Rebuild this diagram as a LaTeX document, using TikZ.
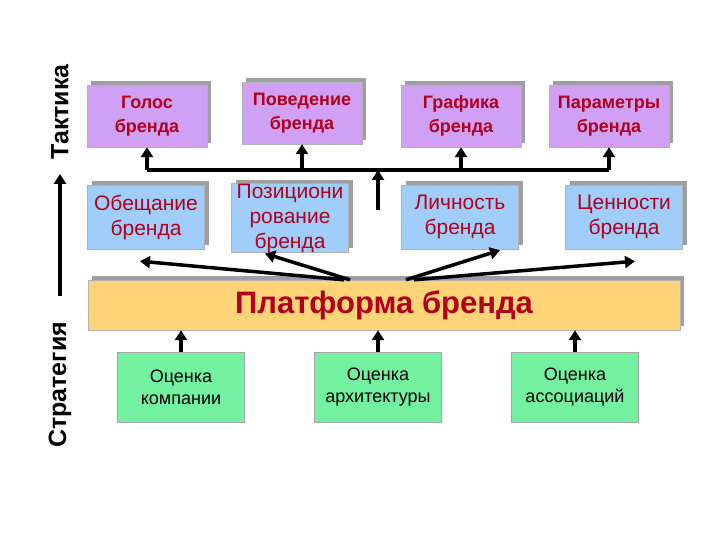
\documentclass[tikz,border=0pt]{standalone}
\usepackage{fontspec}
\setmainfont{Liberation Sans}
\usepackage{xcolor}
\usepackage{tikz}
\usetikzlibrary{arrows.meta, positioning, shadows}
\definecolor{tactic}{RGB}{208, 160, 245}
\definecolor{promise}{RGB}{160, 205, 250}
\definecolor{platform}{RGB}{255, 212, 120}
\definecolor{assess}{RGB}{115, 240, 160}
\definecolor{darkred}{RGB}{175, 0, 30}

\begin{document}
\begin{tikzpicture}[x=1pt, y=-1pt,
			tbox/.style={rectangle, draw=gray!60, fill=tactic, align=center, text=darkred, font=\bfseries\fontsize{18}{24}\selectfont, minimum width=120pt, minimum height=62pt, inner sep=0pt, drop shadow={shadow xshift=4pt, shadow yshift=4pt, fill=gray!75, opacity=1}},
			sbox/.style={rectangle, draw=gray!60, fill=promise, align=center, text=darkred, font=\fontsize{21}{25}\selectfont, minimum width=117pt, minimum height=64pt, inner sep=0pt, drop shadow={shadow xshift=4pt, shadow yshift=4pt, fill=gray!75, opacity=1}},
			abox/.style={rectangle, draw=gray!70, fill=assess, align=center, font=\fontsize{18}{22}\selectfont, minimum width=127pt, minimum height=70pt, inner sep=0pt},
			arr/.style={line width=3.5pt, -{Triangle[length=10pt, width=12pt]}},
			sidelabel/.style={rotate=90, font=\bfseries\fontsize{25}{28}\selectfont}
			]
			\useasboundingbox (0,0) rectangle (720,540);
			
			% Side labels
			\node[sidelabel] (taktika) at (60, 112) {Тактика};
			\node[sidelabel] (strategia) at (60, 385) {Стратегия};
			\coordinate (axis) at (60, 296);
			\draw[arr] (axis) -- (60, 174);
			
			% Tactics
			\node[tbox] (golos) at (147, 116) {Голос\\бренда};
			\node[tbox] (povedenie) at (302, 113) {Поведение\\бренда};
			\node[tbox] (grafika) at (461, 116) {Графика\\бренда};
			\node[tbox] (parametry) at (609, 116) {Параметры\\бренда};
			
			% Strategy
			\node[sbox] (obeschanie) at (146, 217) {Обещание\\бренда};
			\node[sbox] (pozic) at (290, 218) {Позициони\\рование\\бренда};
			\node[sbox] (lichnost) at (460, 217) {Личность\\бренда};
			\node[sbox] (cennosti) at (624, 217) {Ценности\\бренда};
			
			% Platform
			\node[rectangle, draw=gray!60, fill=platform, minimum width=592pt, minimum height=50pt, text=darkred, font=\bfseries\fontsize{31}{34}\selectfont, drop shadow={shadow xshift=4pt, shadow yshift=4pt, fill=gray!75, opacity=1}] (platforma) at (384, 305) {Платформа бренда};
			
			% Assessments
			\node[abox] (ocomp) at (181, 387) {Оценка\\компании};
			\node[abox] (oarch) at (378, 387) {Оценка\\архитектуры};
			\node[abox] (oassoc) at (575, 387) {Оценка\\ассоциаций};
			
			% Bus to tactics
			\coordinate (bus) at (0, 170);
			\draw[line width=3.5pt] (golos.south |- bus) -- (parametry.south |- bus);
			\draw[arr] (golos.south |- bus) -- (golos.south);
			\draw[arr] (povedenie.south |- bus) -- (povedenie.south);
			\draw[arr] (grafika.south |- bus) -- (grafika.south);
			\draw[arr] (parametry.south |- bus) -- (parametry.south);
			\coordinate (busin) at (378, 210);
			\draw[arr] (busin) -- (busin |- bus);
			
			% Platform to strategy
			\draw[arr] ([xshift=-40pt]platforma.north) -- ([xshift=-6pt, yshift=-12pt]obeschanie.south);
			\draw[arr] ([xshift=-34pt]platforma.north) -- ([xshift=-25pt, yshift=-1pt]pozic.south);
			\draw[arr] ([xshift=22pt]platforma.north) -- ([xshift=40pt, yshift=-1pt]lichnost.south);
			\draw[arr] ([xshift=30pt]platforma.north) -- ([xshift=11pt, yshift=-12pt]cennosti.south);
			
			% Assessments to platform
			\draw[arr] (ocomp.north) -- (ocomp.north |- platforma.south);
			\draw[arr] (oarch.north) -- (oarch.north |- platforma.south);
			\draw[arr] (oassoc.north) -- (oassoc.north |- platforma.south);
		\end{tikzpicture}
\end{document}
